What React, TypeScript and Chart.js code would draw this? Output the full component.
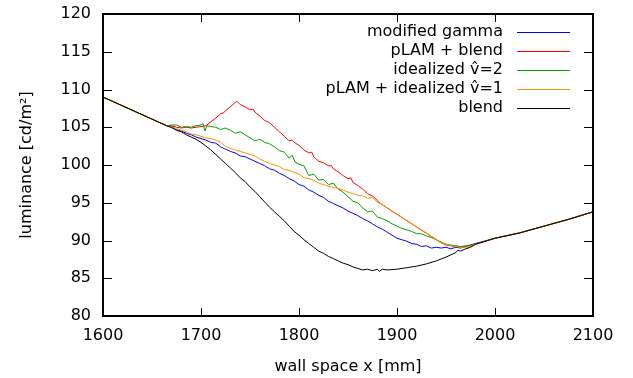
import React, { useEffect, useRef } from "react";
import { Chart, registerables } from "chart.js";

Chart.register(...registerables);

// ---- data (x in mm, y in cd/m^2) ----
const leadX = [1600, 1665];
const leadY = [109.0, 105.2];
const tailX = [2000, 2025, 2050, 2075, 2100];
const tailY = [90.3, 91.0, 91.9, 92.8, 93.8];

const blueX = [1670, 1675, 1680, 1685, 1690, 1695, 1700, 1705, 1710, 1715, 1720, 1725, 1730, 1735, 1740, 1745, 1750, 1755, 1760, 1765, 1770, 1775, 1780, 1785, 1790, 1795, 1800, 1805, 1810, 1815, 1820, 1825, 1830, 1835, 1840, 1845, 1850, 1855, 1860, 1865, 1870, 1875, 1880, 1885, 1890, 1895, 1900, 1905, 1910, 1915, 1920, 1925, 1930, 1935, 1940, 1945, 1950, 1955, 1960, 1965, 1970, 1975, 1980];
const blueY = [105.1, 104.7, 104.5, 104.2, 104.0, 103.7, 103.5, 103.3, 103.0, 102.9, 102.4, 102.1, 101.8, 101.6, 101.2, 101.1, 100.8, 100.5, 100.2, 99.9, 99.5, 99.3, 98.9, 98.6, 98.2, 97.9, 97.4, 97.2, 96.7, 96.4, 96.0, 95.7, 95.2, 94.9, 94.6, 94.3, 93.9, 93.6, 93.3, 92.9, 92.6, 92.2, 91.8, 91.5, 91.1, 90.7, 90.3, 90.1, 89.9, 89.6, 89.5, 89.2, 89.3, 89.0, 89.1, 89.0, 89.1, 88.9, 89.1, 89.0, 89.2, 89.4, 89.6];

const redX = [1670, 1675, 1680, 1685, 1690, 1695, 1700, 1705, 1710, 1715, 1720, 1723, 1725, 1730, 1735, 1737, 1740, 1745, 1750, 1753, 1755, 1760, 1765, 1770, 1775, 1780, 1785, 1790, 1793, 1795, 1800, 1805, 1810, 1813, 1815, 1820, 1825, 1830, 1833, 1835, 1840, 1845, 1850, 1853, 1855, 1860, 1865, 1870, 1875, 1880, 1883, 1945, 1950, 1960, 1970, 1980];
const redY = [105.2, 105.0, 104.9, 105.0, 104.9, 105.0, 105.1, 105.2, 105.7, 106.2, 106.8, 106.9, 107.2, 107.7, 108.3, 108.4, 108.0, 107.7, 107.3, 107.4, 107.0, 106.5, 105.9, 105.6, 105.0, 104.4, 103.8, 103.2, 103.3, 103.0, 102.6, 102.0, 101.6, 101.7, 101.1, 100.5, 100.3, 99.9, 99.9, 99.5, 99.1, 98.6, 98.2, 98.3, 97.7, 97.3, 96.8, 96.2, 95.9, 95.3, 94.9, 89.7, 89.4, 89.2, 89.2, 89.5];

const greenX = [1670, 1675, 1680, 1685, 1690, 1695, 1700, 1702, 1704, 1706, 1710, 1715, 1720, 1725, 1730, 1735, 1740, 1745, 1750, 1755, 1760, 1765, 1770, 1775, 1780, 1785, 1790, 1793, 1796, 1800, 1805, 1810, 1815, 1820, 1825, 1830, 1835, 1840, 1845, 1850, 1855, 1860, 1865, 1870, 1875, 1880, 1885, 1890, 1895, 1900, 1905, 1910, 1915, 1920, 1925, 1930, 1935, 1940, 1945, 1950, 1955, 1960, 1965, 1970, 1975, 1980];
const greenY = [105.3, 105.3, 105.0, 105.1, 105.0, 105.2, 105.3, 105.5, 104.5, 105.2, 105.1, 105.0, 104.7, 104.9, 104.6, 104.2, 104.4, 104.0, 103.6, 103.2, 103.4, 103.0, 102.8, 102.4, 101.9, 101.7, 100.9, 101.3, 100.4, 100.1, 99.9, 98.6, 98.8, 98.0, 98.1, 97.4, 97.6, 96.8, 96.4, 95.8, 95.2, 95.0, 94.3, 93.8, 93.9, 93.1, 92.9, 92.6, 92.2, 91.9, 91.6, 91.4, 91.2, 90.9, 90.9, 90.6, 90.4, 90.1, 89.8, 89.5, 89.4, 89.3, 89.2, 89.3, 89.4, 89.5];

const orangeX = [1670, 1675, 1680, 1685, 1690, 1695, 1700, 1705, 1710, 1715, 1720, 1725, 1730, 1735, 1740, 1745, 1750, 1755, 1760, 1765, 1770, 1775, 1780, 1785, 1790, 1795, 1800, 1805, 1810, 1815, 1820, 1825, 1830, 1835, 1840, 1845, 1850, 1855, 1860, 1865, 1870, 1875, 1880, 1883, 1945, 1950, 1955, 1960, 1965, 1970, 1975, 1980];
const orangeY = [105.0, 104.8, 104.6, 104.4, 104.1, 104.0, 103.8, 103.6, 103.5, 103.3, 103.0, 102.5, 102.2, 102.0, 101.8, 101.6, 101.4, 101.2, 100.8, 100.5, 100.2, 100.0, 99.8, 99.4, 99.3, 99.0, 98.8, 98.3, 98.2, 98.0, 97.6, 97.4, 97.2, 97.0, 96.9, 96.7, 96.4, 96.2, 96.0, 95.9, 95.6, 95.7, 95.1, 94.9, 89.7, 89.5, 89.3, 89.2, 89.1, 89.1, 89.2, 89.5];

const blackX = [1670, 1675, 1680, 1685, 1690, 1695, 1700, 1705, 1710, 1715, 1720, 1725, 1730, 1735, 1740, 1745, 1750, 1755, 1760, 1765, 1770, 1775, 1780, 1785, 1790, 1795, 1800, 1805, 1810, 1815, 1820, 1825, 1830, 1835, 1840, 1845, 1850, 1855, 1860, 1865, 1870, 1875, 1880, 1882, 1885, 1890, 1900, 1910, 1920, 1930, 1940, 1950, 1955, 1960, 1962, 1965, 1970, 1975, 1980];
const blackY = [104.95, 104.6, 104.4, 104.0, 103.7, 103.4, 103.0, 102.5, 102.0, 101.4, 100.8, 100.2, 99.6, 99.0, 98.3, 97.8, 97.1, 96.5, 95.8, 95.1, 94.4, 93.8, 93.2, 92.6, 91.9, 91.2, 90.7, 90.1, 89.6, 89.1, 88.6, 88.3, 87.9, 87.6, 87.3, 87.0, 86.8, 86.5, 86.3, 86.1, 86.2, 86.0, 86.2, 85.9, 86.2, 86.1, 86.2, 86.4, 86.6, 86.9, 87.3, 87.8, 88.1, 88.4, 88.7, 88.6, 88.9, 89.1, 89.5];

const seriesLabels = ["modified gamma", "pLAM + blend", "idealized v\u0302=2", "pLAM + idealized v\u0302=1", "blend"];
const seriesColors = ["#0000ff", "#ff0000", "#00a000", "#ff9000", "#000000"];

const xTicks = [1600, 1700, 1800, 1900, 2000, 2100];
const yTicks = [80, 85, 90, 95, 100, 105, 110, 115, 120];

const FONT = "DejaVu Sans";

function pts(xs: number[], ys: number[]) {
  const all = [...leadX.map((x, i) => ({ x, y: leadY[i] }))];
  xs.forEach((x, i) => all.push({ x, y: ys[i] }));
  tailX.forEach((x, i) => all.push({ x, y: tailY[i] }));
  return all;
}

const framePlugin = {
  id: "frameAndLegend",
  afterDatasetsDraw(chart: any) {
    const { ctx, chartArea } = chart;
    const { left, right, top, bottom } = chartArea;
    const xs = chart.scales.x;
    const ys = chart.scales.y;
    ctx.save();
    ctx.strokeStyle = "#000";
    ctx.lineWidth = 1;
    ctx.beginPath();
    xTicks.forEach((t) => {
      const px = Math.round(xs.getPixelForValue(t)) + 0.5;
      ctx.moveTo(px, bottom);
      ctx.lineTo(px, bottom - 8);
      ctx.moveTo(px, top);
      ctx.lineTo(px, top + 8);
    });
    yTicks.forEach((t) => {
      const py = Math.round(ys.getPixelForValue(t)) + 0.5;
      ctx.moveTo(left, py);
      ctx.lineTo(left + 9, py);
      ctx.moveTo(right, py);
      ctx.lineTo(right - 9, py);
    });
    ctx.stroke();
    ctx.lineWidth = 2;
    ctx.strokeRect(left, top, right - left, bottom - top);

    // legend
    ctx.font = `16px "${FONT}"`;
    ctx.textAlign = "right";
    ctx.textBaseline = "middle";
    ctx.fillStyle = "#000";
    const lx = 503;
    seriesLabels.forEach((lab, i) => {
      const y = 31.7 + i * 19.1;
      ctx.fillText(lab, lx, y);
      ctx.strokeStyle = seriesColors[i];
      ctx.lineWidth = 1.2;
      ctx.beginPath();
      ctx.moveTo(517, Math.round(y) + 0.5);
      ctx.lineTo(570, Math.round(y) + 0.5);
      ctx.stroke();
    });
    ctx.restore();
  },
};

export default function App() {
  const ref = useRef<HTMLCanvasElement>(null);
  useEffect(() => {
    if (!ref.current) return;
    Chart.defaults.font.family = FONT;
    const data = [
      pts(blueX, blueY),
      pts(redX, redY),
      pts(greenX, greenY),
      pts(orangeX, orangeY),
      pts(blackX, blackY),
    ];
    // index 0 is drawn on top, so list in reverse (black on top)
    const order = [4, 3, 2, 1, 0];
    const chart = new Chart(ref.current, {
      type: "line",
      data: {
        datasets: order.map((i) => ({
          label: seriesLabels[i],
          data: data[i],
          borderColor: seriesColors[i],
          borderWidth: 1,
          pointRadius: 0,
          tension: 0,
          fill: false,
        })),
      },
      options: {
        responsive: false,
        animation: false,
        devicePixelRatio: 1,
        layout: { padding: { top: 14, right: 40, left: 0, bottom: 0 } },
        plugins: { legend: { display: false }, tooltip: { enabled: false } },
        scales: {
          x: {
            type: "linear",
            min: 1600,
            max: 2100,
            afterFit: (s: any) => { s.height = 62; s.paddingLeft = 0; s.paddingRight = 0; },
            afterBuildTicks: (s: any) => { s.ticks = xTicks.map((v) => ({ value: v })); },
            grid: { display: false, drawTicks: false },
            border: { display: false },
            ticks: {
              color: "#000",
              font: { size: 16, family: FONT },
              padding: 10,
              maxRotation: 0,
              callback: (v: any) => String(v),
            },
            title: {
              display: true,
              text: "wall space x [mm]",
              color: "#000",
              font: { size: 16, family: FONT },
              padding: { top: 0, bottom: 2 },
            },
          },
          y: {
            type: "linear",
            min: 80,
            max: 120,
            afterFit: (s: any) => { s.width = 103; s.paddingTop = 0; s.paddingBottom = 0; },
            afterBuildTicks: (s: any) => { s.ticks = yTicks.map((v) => ({ value: v })); },
            grid: { display: false, drawTicks: false },
            border: { display: false },
            ticks: {
              color: "#000",
              font: { size: 16, family: FONT },
              padding: 12,
              callback: (v: any) => String(v),
            },
            title: {
              display: true,
              text: "luminance [cd/m²]",
              color: "#000",
              font: { size: 16, family: FONT },
              padding: { top: 17, bottom: 0 },
            },
          },
        },
      },
      plugins: [framePlugin],
    });
    return () => chart.destroy();
  }, []);
  return (
    <div style={{ position: "absolute", left: 0, top: 0, width: 633, height: 378, background: "#fff" }}>
      <canvas ref={ref} width={633} height={378} style={{ display: "block" }} />
    </div>
  );
}
